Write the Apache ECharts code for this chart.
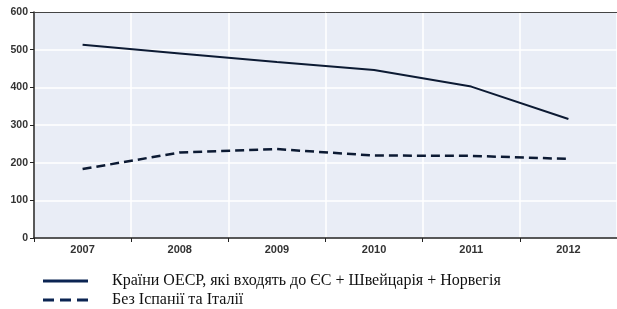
<!DOCTYPE html>
<html>
<head>
    <meta charset="utf-8">
    <title>ECharts</title>
    <script src="https://cdn.jsdelivr.net/npm/echarts@6/dist/echarts.min.js"></script>
    <style>
        html, body { margin: 0; padding: 0; background: #ffffff; }
        #main { width: 617px; height: 309px; }
    </style>
</head>
<body>
    <div id="main"></div>
    <script type="text/javascript">
    // дані
    var years = ['2007', '2008', '2009', '2010', '2011', '2012'];
    var oecdEu = [513, 490, 467, 446, 402, 316];
    var noSpainItaly = [183, 227, 236, 219, 218, 210];
    var seriesNames = ['Країни ОЕСР, які входять до ЄС + Швейцарія + Норвегія', 'Без Іспанії та Італії'];

    var lineColor = '#0c1a33';
    var legendColor = '#0b2452';
    var myChart = echarts.init(document.getElementById('main'));

    // одна легенда на рядок
    function legendRow(name, icon, top) {
        return {
            left: 38,
            top: top,
            itemWidth: 45,
            itemHeight: 3,
            icon: icon,
            itemStyle: { color: legendColor },
            textStyle: {
                fontFamily: 'Liberation Serif',
                fontSize: 16,
                color: '#111',
                padding: [0, 0, 0, 19]
            },
            data: [name]
        };
    }

    var option = {
        backgroundColor: '#ffffff',
        animation: false,
        grid: {
            left: 34,
            right: -10,
            top: 12,
            bottom: 71,
            show: true,
            backgroundColor: '#e9edf6',
            borderWidth: 0
        },
        legend: [
            legendRow(seriesNames[0], 'path://M0,0H45V3H0Z', 268),
            legendRow(seriesNames[1], 'path://M0,0H11V3H0Z M17,0H28V3H17Z M34,0H45V3H34Z', 287)
        ],
        xAxis: {
            type: 'category',
            data: years,
            boundaryGap: true,
            axisLine: { lineStyle: { color: '#222', width: 1.5 } },
            axisTick: { show: true, length: 4, lineStyle: { color: '#222' } },
            axisLabel: {
                fontFamily: 'Liberation Sans',
                fontWeight: 'bold',
                fontSize: 11,
                color: '#333',
                margin: 6
            },
            splitLine: { show: true, lineStyle: { color: '#ffffff', width: 1.5 } }
        },
        yAxis: {
            type: 'value',
            min: 0,
            max: 600,
            interval: 100,
            axisLine: { show: true, lineStyle: { color: '#222', width: 1.5 } },
            axisTick: { show: true, length: 4, lineStyle: { color: '#222' } },
            axisLabel: {
                fontFamily: 'Liberation Sans',
                fontWeight: 'bold',
                fontSize: 10.5,
                color: '#333',
                margin: 6
            },
            splitLine: { show: true, lineStyle: { color: '#ffffff', width: 1.5 } }
        },
        series: [{
            name: seriesNames[0],
            type: 'line',
            data: oecdEu,
            symbol: 'none',
            lineStyle: { color: lineColor, width: 2 },
            itemStyle: { color: lineColor }
        }, {
            name: seriesNames[1],
            type: 'line',
            data: noSpainItaly,
            symbol: 'none',
            lineStyle: { color: lineColor, width: 2.5, type: [9, 5] },
            itemStyle: { color: lineColor }
        }, {
            // верхня рамка
            type: 'line',
            data: [],
            markLine: {
                silent: true,
                symbol: 'none',
                label: { show: false },
                lineStyle: { color: '#444', width: 1, type: 'solid' },
                data: [{ yAxis: 600 }]
            }
        }]
    };

    myChart.setOption(option);
    </script>
</body>
</html>
